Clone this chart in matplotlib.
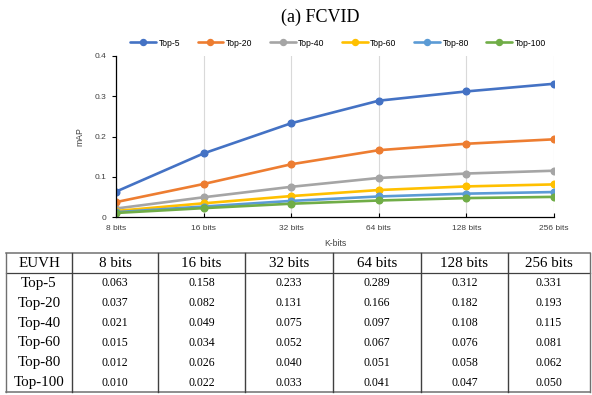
import numpy as np
import matplotlib
matplotlib.use("Agg")
import matplotlib.pyplot as plt

# ── Data ───────────────────────────────────────────────────────────────────────
bits = ["8 bits", "16 bits", "32 bits", "64 bits", "128 bits", "256 bits"]
series_names = ["Top-5", "Top-20", "Top-40", "Top-60", "Top-80", "Top-100"]
top5 = [0.063, 0.158, 0.233, 0.289, 0.312, 0.331]
top20 = [0.037, 0.082, 0.131, 0.166, 0.182, 0.193]
top40 = [0.021, 0.049, 0.075, 0.097, 0.108, 0.115]
top60 = [0.015, 0.034, 0.052, 0.067, 0.076, 0.081]
top80 = [0.012, 0.026, 0.040, 0.051, 0.058, 0.062]
top100 = [0.010, 0.022, 0.033, 0.041, 0.047, 0.050]
series = [top5, top20, top40, top60, top80, top100]
yticks = [0, 0.1, 0.2, 0.3, 0.4]
ytick_labels = ["0", "0.1", "0.2", "0.3", "0.4"]

COLORS = ["#4472C4", "#ED7D31", "#A5A5A5", "#FFC000", "#5B9BD5", "#70AD47"]
SANS = "Liberation Sans"
SERIF = "Liberation Serif"
W, H = 592, 395

fig = plt.figure(figsize=(W / 100, H / 100), dpi=100)

# ── Line chart ─────────────────────────────────────────────────────────────────
ax = fig.add_axes([116 / W, 1 - 217 / H, (554 - 116) / W, (217 - 56) / H])
x = np.arange(len(bits))
for name, vals, col in zip(series_names, series, COLORS):
    ax.plot(x, vals, color=col, lw=1.9, marker="o", ms=4.8, label=name,
            solid_capstyle="round")

ax.set_xlim(0, len(bits) - 1)
ax.set_ylim(0, 0.4)
ax.set_xticks(x)
ax.set_xticklabels(bits, fontsize=6, family=SANS, color="#404040")
ax.set_yticks(yticks)
ax.set_yticklabels(ytick_labels, fontsize=6, family=SANS, color="#404040")
ax.grid(axis="x", color="#D9D9D9", lw=0.8)
ax.set_axisbelow(True)
for side in ("top", "right"):
    ax.spines[side].set_visible(False)
for side in ("left", "bottom"):
    ax.spines[side].set_color("black")
    ax.spines[side].set_linewidth(0.9)
ax.tick_params(axis="y", direction="out", length=3, width=0.8, pad=4)
ax.tick_params(axis="x", direction="in", length=3, width=0.8, pad=6)
ax.set_xlabel("K-bits", fontsize=6.2, family=SANS, color="#404040", labelpad=5)
ax.set_ylabel("mAP", fontsize=6.2, family=SANS, color="#404040", labelpad=7)

ax.legend(loc="center", bbox_to_anchor=(338 / W, 1 - 43 / H),
          bbox_transform=fig.transFigure, ncol=6, frameon=False,
          prop={"family": SANS, "size": 6.2}, handlelength=3.0,
          handletextpad=0.3, columnspacing=2.0, markerscale=0.9)

fig.text(320 / W, 1 - 17 / H, "(a) FCVID", ha="center", va="center",
         family=SERIF, fontsize=13)

# ── Table (pixel coordinates overlay) ──────────────────────────────────────────
tab = fig.add_axes([0, 0, 1, 1])
tab.set_xlim(0, W)
tab.set_ylim(H, 0)
tab.axis("off")

col_edges = [6, 72, 158, 245, 333, 421, 508, 590]
top, head_bot, bottom = 253, 273, 392
row_h = (bottom - head_bot) / len(series_names)
edge_col = "#707070"

tab.plot([col_edges[0], col_edges[-1]], [top, top], color=edge_col, lw=1.1)
tab.plot([col_edges[0], col_edges[-1]], [bottom, bottom], color=edge_col, lw=1.1)
tab.plot([col_edges[0], col_edges[-1]], [head_bot, head_bot], color="#404040", lw=0.9)
for cx in col_edges:
    tab.plot([cx, cx], [top, bottom], color=edge_col if cx in (6, 590) else "#404040",
             lw=1.0)

header = ["EUVH"] + bits
for i, txt in enumerate(header):
    cx = (col_edges[i] + col_edges[i + 1]) / 2
    tab.text(cx, (top + head_bot) / 2 + 0.5, txt, ha="center", va="center",
             family=SERIF, fontsize=10.8)

for r, (name, vals) in enumerate(zip(series_names, series)):
    cy = head_bot + row_h * (r + 0.5) + 0.5
    tab.text((col_edges[0] + col_edges[1]) / 2, cy, name, ha="center",
             va="center", family=SERIF, fontsize=10.8)
    for c, v in enumerate(vals):
        cx = (col_edges[c + 1] + col_edges[c + 2]) / 2
        tab.text(cx, cy, f"{v:.3f}", ha="center", va="center",
                 family=SERIF, fontsize=8.5)

fig.savefig("out.png", dpi=100)
